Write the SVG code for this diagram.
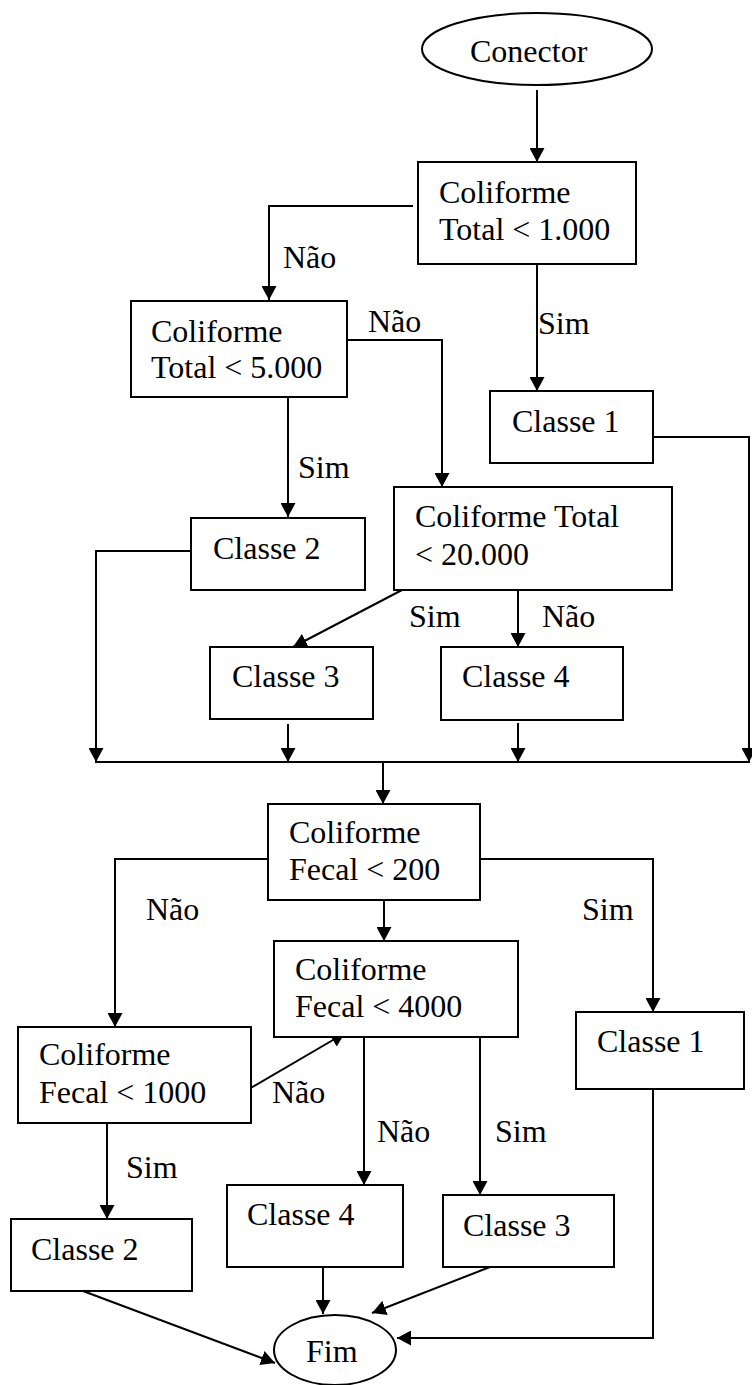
<svg xmlns="http://www.w3.org/2000/svg" width="752" height="1385" viewBox="0 0 752 1385">
  <style>
    .box { fill: #fff; stroke: #000; stroke-width: 2; }
    .t { font-family: "Liberation Serif", "Times New Roman", serif; font-size: 32px; fill: #000; }
    .c { fill: none; stroke: #000; stroke-width: 2; }
    .a { marker-end: url(#arr); }
  </style>
  <defs>
    <marker id="arr" markerUnits="userSpaceOnUse" viewBox="0 0 14 15" refX="14" refY="7.5" markerWidth="14" markerHeight="15" orient="auto">
      <path d="M0,0 L14,7.5 L0,15 z" fill="#000"/>
    </marker>
  </defs>
  <rect width="752" height="1385" fill="#fff"/>

  <!-- connectors -->
  <g id="connectors">
    <line class="c a" x1="537" y1="90" x2="537" y2="162"/>
    <polyline class="c a" points="413,206 269,206 269,300"/>
    <line class="c a" x1="537" y1="264" x2="537" y2="391"/>
    <polyline class="c a" points="347,340 442,340 442,487"/>
    <line class="c a" x1="288" y1="397" x2="288" y2="517"/>
    <polyline class="c a" points="653,437 749,437 749,762"/>
    <polyline class="c a" points="191,551 96,551 96,762"/>
    <line class="c a" x1="402" y1="590" x2="293" y2="647"/>
    <line class="c a" x1="518" y1="590" x2="518" y2="647"/>
    <line class="c a" x1="288" y1="724" x2="288" y2="762"/>
    <line class="c a" x1="518" y1="723" x2="518" y2="762"/>
    <line class="c" x1="95" y1="762" x2="750" y2="762"/>
    <line class="c a" x1="383" y1="762" x2="383" y2="804"/>
    <polyline class="c a" points="268,859 115,859 115,1027"/>
    <line class="c a" x1="384" y1="897" x2="384" y2="941"/>
    <polyline class="c a" points="480,859 653,859 653,1012"/>
    <line class="c a" x1="249" y1="1089" x2="345" y2="1033"/>
    <line class="c a" x1="364" y1="1031" x2="364" y2="1185"/>
    <line class="c a" x1="480" y1="1031" x2="480" y2="1195"/>
    <line class="c a" x1="107" y1="1123" x2="107" y2="1219"/>
    <line class="c a" x1="323" y1="1267" x2="323" y2="1314"/>
    <line class="c a" x1="83" y1="1291" x2="275" y2="1363"/>
    <line class="c a" x1="490" y1="1267" x2="372" y2="1313"/>
    <polyline class="c a" points="653,1089 653,1338 397,1338"/>
  </g>

  <!-- connector labels -->
  <g id="labels">
    <text class="t" x="283" y="268">Não</text>
    <text class="t" x="368" y="332">Não</text>
    <text class="t" x="538" y="334">Sim</text>
    <text class="t" x="298" y="478">Sim</text>
    <text class="t" x="409" y="627">Sim</text>
    <text class="t" x="542" y="627">Não</text>
    <text class="t" x="146" y="920">Não</text>
    <text class="t" x="582" y="920">Sim</text>
    <text class="t" x="272" y="1103">Não</text>
    <text class="t" x="377" y="1142">Não</text>
    <text class="t" x="495" y="1142">Sim</text>
    <text class="t" x="126" y="1178">Sim</text>
  </g>

  <g id="conector">
    <ellipse class="box" cx="537" cy="49" rx="115" ry="36"/>
    <text class="t" x="470" y="62">Conector</text>
  </g>

  <g id="ct1000">
    <rect class="box" x="418" y="162" width="218" height="102"/>
    <text class="t" x="439" y="203">Coliforme</text>
    <text class="t" x="439" y="240">Total &lt; 1.000</text>
  </g>

  <g id="ct5000">
    <rect class="box" x="131" y="301" width="216" height="96"/>
    <text class="t" x="151" y="342">Coliforme</text>
    <text class="t" x="151" y="378">Total &lt; 5.000</text>
  </g>

  <g id="classe1-top">
    <rect class="box" x="490" y="391" width="163" height="72"/>
    <text class="t" x="512" y="432">Classe 1</text>
  </g>

  <g id="ct20000">
    <rect class="box" x="394" y="487" width="278" height="103"/>
    <text class="t" x="415" y="527">Coliforme Total</text>
    <text class="t" x="415" y="565">&lt; 20.000</text>
  </g>

  <g id="classe2-top">
    <rect class="box" x="191" y="518" width="174" height="72"/>
    <text class="t" x="213" y="559">Classe 2</text>
  </g>

  <g id="classe3-top">
    <rect class="box" x="210" y="647" width="163" height="72"/>
    <text class="t" x="232" y="687">Classe 3</text>
  </g>

  <g id="classe4-top">
    <rect class="box" x="441" y="647" width="182" height="73"/>
    <text class="t" x="462" y="687">Classe 4</text>
  </g>

  <g id="cf200">
    <rect class="box" x="268" y="804" width="212" height="96"/>
    <text class="t" x="289" y="843">Coliforme</text>
    <text class="t" x="289" y="880">Fecal &lt; 200</text>
  </g>

  <g id="cf4000">
    <rect class="box" x="274" y="941" width="244" height="96"/>
    <text class="t" x="295" y="980">Coliforme</text>
    <text class="t" x="295" y="1017">Fecal &lt; 4000</text>
  </g>

  <g id="classe1-bottom">
    <rect class="box" x="576" y="1012" width="168" height="77"/>
    <text class="t" x="597" y="1052">Classe 1</text>
  </g>

  <g id="cf1000">
    <rect class="box" x="18" y="1027" width="233" height="96"/>
    <text class="t" x="39" y="1065">Coliforme</text>
    <text class="t" x="39" y="1103">Fecal &lt; 1000</text>
  </g>

  <g id="classe4-bottom">
    <rect class="box" x="227" y="1185" width="176" height="82"/>
    <text class="t" x="247" y="1225">Classe 4</text>
  </g>

  <g id="classe3-bottom">
    <rect class="box" x="443" y="1195" width="171" height="72"/>
    <text class="t" x="463" y="1236">Classe 3</text>
  </g>

  <g id="classe2-bottom">
    <rect class="box" x="11" y="1219" width="181" height="72"/>
    <text class="t" x="31" y="1260">Classe 2</text>
  </g>

  <g id="fim">
    <ellipse class="box" cx="335" cy="1350" rx="61" ry="35"/>
    <text class="t" x="306" y="1362">Fim</text>
  </g>
</svg>
